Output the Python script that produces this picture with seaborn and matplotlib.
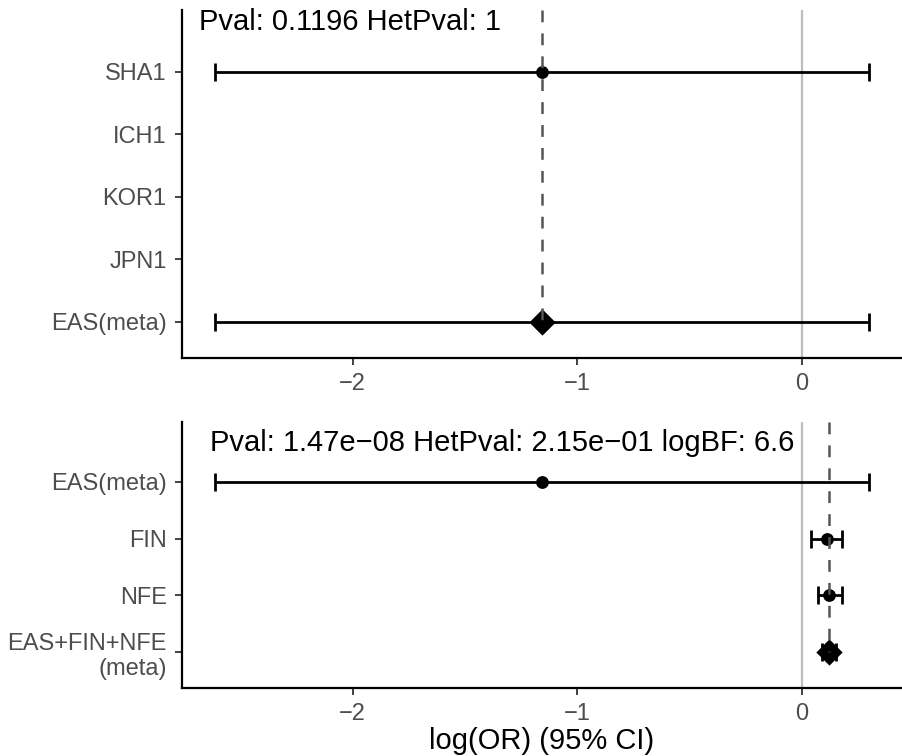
import numpy as np
import pandas as pd
import matplotlib
matplotlib.use("Agg")
import matplotlib.pyplot as plt
import seaborn as sns

# ---- data ----
top_labels = ["SHA1", "ICH1", "KOR1", "JPN1", "EAS(meta)"]
top_est = [-1.156, np.nan, np.nan, np.nan, -1.156]
top_lo = [-2.613, np.nan, np.nan, np.nan, -2.613]
top_hi = [0.300, np.nan, np.nan, np.nan, 0.300]
top_meta = [False, False, False, False, True]
top_note = "Pval: 0.1196 HetPval: 1"

bot_labels = ["EAS(meta)", "FIN", "NFE", "EAS+FIN+NFE\n(meta)"]
bot_est = [-1.156, 0.110, 0.123, 0.120]
bot_lo = [-2.613, 0.039, 0.071, 0.090]
bot_hi = [0.300, 0.179, 0.179, 0.150]
bot_meta = [False, False, False, True]
bot_note = "Pval: 1.47e\u221208 HetPval: 2.15e\u221201 logBF: 6.6"

x_ticks = [-2, -1, 0]
x_title = "log(OR) (95% CI)"

sns.set_theme(style="ticks")
plt.rcParams["font.family"] = ["Liberation Sans", "DejaVu Sans"]
plt.rcParams["lines.scale_dashes"] = False
plt.rcParams["axes.unicode_minus"] = True

fig = plt.figure(figsize=(9.02, 7.56), dpi=100)
ax1 = fig.add_axes([182 / 902, 1 - 358 / 756, 720 / 902, 348 / 756])
ax2 = fig.add_axes([182 / 902, 1 - 688 / 756, 720 / 902, 266 / 756])


def panel(ax, labels, est, lo, hi, meta, note, ylim, note_xy):
    df = pd.DataFrame({"label": labels, "est": est, "lo": lo, "hi": hi, "meta": meta})
    df["pos"] = np.arange(len(df))
    d = df.dropna()
    ax.axvline(0, color="#BEBEBE", lw=1.6, zorder=1)
    ax.errorbar(d["est"], d["pos"], xerr=[d["est"] - d["lo"], d["hi"] - d["est"]],
                fmt="none", ecolor="black", elinewidth=2.0, capsize=6.5, capthick=2.0,
                zorder=2)
    pts = d[~d["meta"]]
    sns.scatterplot(data=pts, x="est", y="pos", color="black", s=85, marker="o",
                    edgecolor="black", linewidth=0, ax=ax, zorder=3, legend=False)
    mt = d[d["meta"]]
    sns.scatterplot(data=mt, x="est", y="pos", color="black", s=180, marker="D",
                    edgecolor="black", linewidth=0, ax=ax, zorder=3, legend=False)
    m = float(mt["est"].iloc[0])
    ax.plot([m, m], [ylim[1], float(mt["pos"].iloc[0])], color="#555555", lw=1.8,
            dashes=(8.5, 8), zorder=4)
    ax.set_ylim(*ylim)
    ax.set_xlim(-2.76, 0.446)
    ax.set_yticks(df["pos"])
    ax.set_yticklabels(labels)
    ax.set_xticks(x_ticks)
    ax.set_xticklabels([f"{t}".replace("-", "\u2212") for t in x_ticks])
    ax.set_xlabel("")
    ax.set_ylabel("")
    ax.text(note_xy[0], note_xy[1], note, ha="left", va="center", fontsize=21,
            color="black", zorder=5)
    sns.despine(ax=ax)
    for s in ["left", "bottom"]:
        ax.spines[s].set_color("black")
        ax.spines[s].set_linewidth(1.6)
    ax.tick_params(axis="both", labelsize=17, labelcolor="#4D4D4D", color="#333333",
                   length=5, width=1.3, pad=6)
    ax.grid(False)


panel(ax1, top_labels, top_est, top_lo, top_hi, top_meta, top_note,
      (4.58, -0.99), (-2.684, -0.8))
panel(ax2, bot_labels, bot_est, bot_lo, bot_hi, bot_meta, bot_note,
      (3.63, -1.05), (-2.636, -0.68))
ax2.set_xlabel(x_title, fontsize=21, color="black", labelpad=1)

fig.savefig("out.png", dpi=100)
